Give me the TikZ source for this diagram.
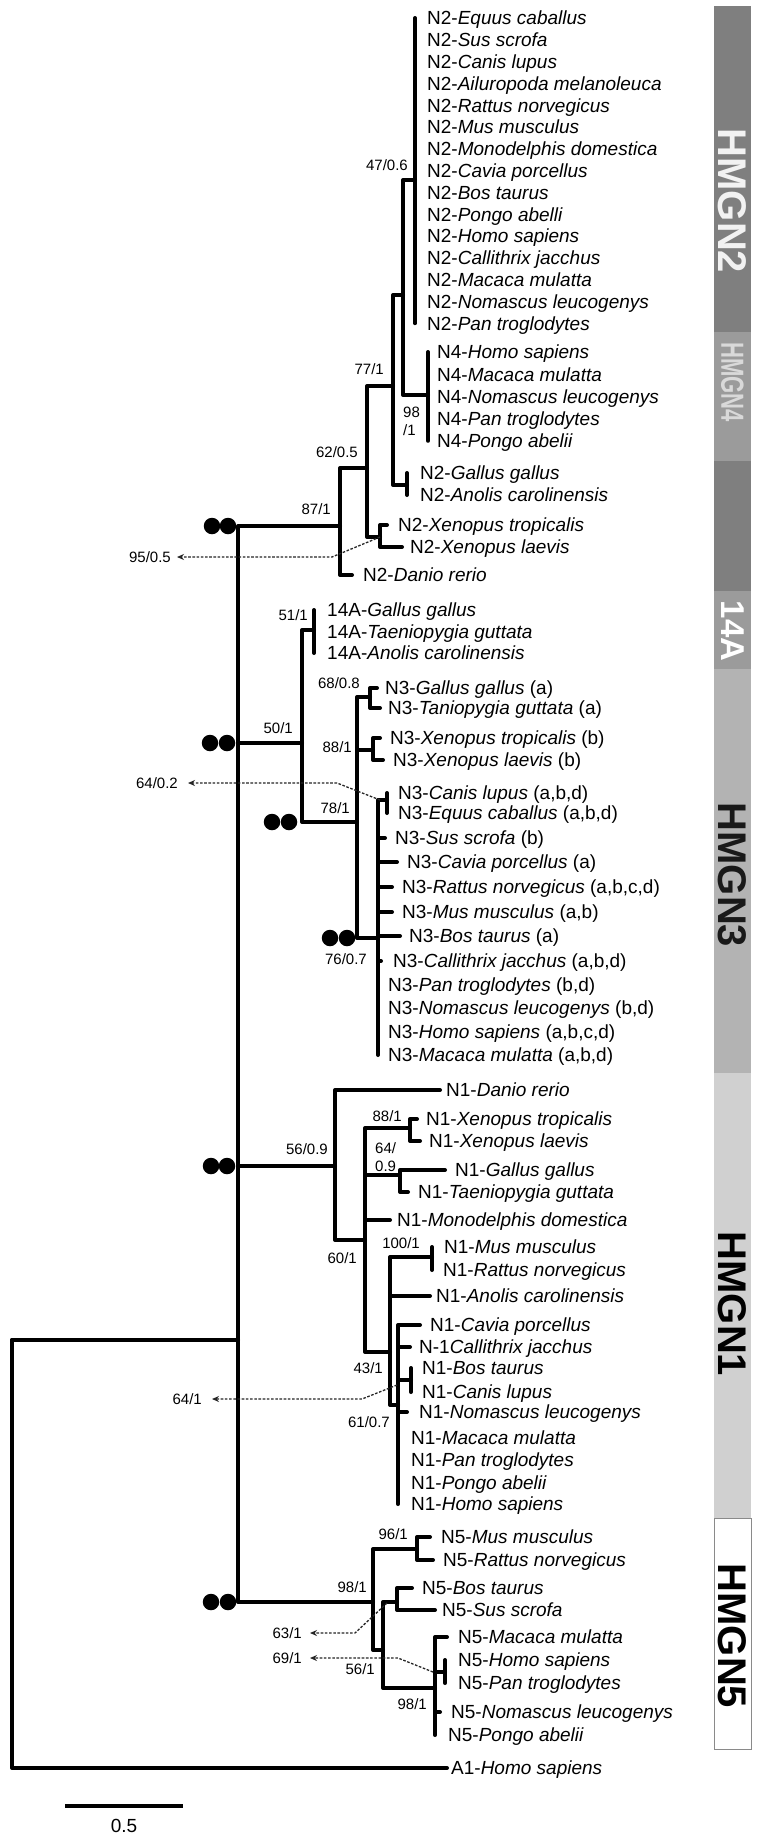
\documentclass[tikz,border=0pt]{standalone}
\usepackage{fontspec}
\usepackage{graphicx}
\setmainfont{Liberation Sans}
\usetikzlibrary{arrows.meta}
\definecolor{barDark}{HTML}{7F7F7F}
\definecolor{barMid}{HTML}{9B9B9B}
\definecolor{barThree}{HTML}{B3B3B3}
\definecolor{barOne}{HTML}{D0D0D0}
\definecolor{barEdge}{HTML}{8A8A8A}
\begin{document}
\begin{tikzpicture}[x=1pt,y=-1pt,
 br/.style={line width=4pt,line cap=round,line join=round},
 tx/.style={anchor=west,inner sep=0pt,font=\fontsize{19}{19}\selectfont,text height=13.6pt,text depth=0pt},
 bsr/.style={anchor=east,inner sep=0pt,font=\fontsize{15}{15}\selectfont,text height=10.7pt,text depth=0pt},
 bsl/.style={bsr,anchor=west},
 dsh/.style={line width=1.3pt,dash pattern=on 2.6pt off 1.6pt,black!85,-{Stealth[length=7pt,width=6pt]}},
 dot/.style={circle,fill=black,draw=none,inner sep=0pt,minimum size=16.5pt},
 bartext/.style={rotate=-90,inner sep=0pt,font=\fontsize{40}{40}\selectfont\bfseries}
]
\useasboundingbox[fill=white] (0,0) rectangle (760,1840);

% ---------- side bars ----------
\fill[barDark] (714,6) rectangle (751,332);
\fill[barMid] (714,332) rectangle (751,461);
\fill[barDark] (714,461) rectangle (751,591);
\fill[barMid] (714,591) rectangle (751,669);
\fill[barThree] (714,669) rectangle (751,1073);
\fill[barOne] (714,1073) rectangle (751,1518);
\draw[barEdge,line width=0.8pt,fill=white] (714,1518) rectangle (751,1749);
\node[bartext,text=white!95!black] (tHMGN2) at (732.5,201) {HMGN2};
\node[bartext,text=white!85!black,font=\fontsize{32}{32}\selectfont\bfseries] (tHMGN4) at (732.5,382) {\scalebox{0.69}[1]{HMGN4}};
\node[bartext,text=white,font=\fontsize{33}{33}\selectfont\bfseries] (t14A) at (732.5,631) {14A};
\node[bartext,text=black!90] (tHMGN3) at (732.5,875) {HMGN3};
\node[bartext,text=black] (tHMGN1) at (732.5,1304) {HMGN1};
\node[bartext,text=black] (tHMGN5) at (732.5,1636) {HMGN5};

% ---------- taxon labels ----------
\foreach \t [count=\i] in {Equus caballus,Sus scrofa,Canis lupus,Ailuropoda melanoleuca,Rattus norvegicus,Mus musculus,Monodelphis domestica,Cavia porcellus,Bos taurus,Pongo abelli,Homo sapiens,Callithrix jacchus,Macaca mulatta,Nomascus leucogenys,Pan troglodytes}
  \node[tx] (n2m\i) at (427,{18+21.8*(\i-1)}) {N2-\textit{\t}};
\foreach \t [count=\i] in {Homo sapiens,Macaca mulatta,Nomascus leucogenys,Pan troglodytes,Pongo abelii}
  \node[tx] (n4\i) at (437,{352+22.2*(\i-1)}) {N4-\textit{\t}};
\node[tx] (n2gal) at (420,473) {N2-\textit{Gallus gallus}};
\node[tx] (n2ano) at (420,495) {N2-\textit{Anolis carolinensis}};
\node[tx] (n2xt) at (398,525) {N2-\textit{Xenopus tropicalis}};
\node[tx] (n2xl) at (410,547) {N2-\textit{Xenopus laevis}};
\node[tx] (n2dan) at (363,575) {N2-\textit{Danio rerio}};
\node[tx] (a14a) at (327,610) {14A-\textit{Gallus gallus}};
\node[tx] (a14b) at (327,632) {14A-\textit{Taeniopygia guttata}};
\node[tx] (a14c) at (327,653) {14A-\textit{Anolis carolinensis}};
\node[tx] (n3gal) at (385,688) {N3-\textit{Gallus gallus} (a)};
\node[tx] (n3tan) at (388,708) {N3-\textit{Taniopygia guttata} (a)};
\node[tx] (n3xt) at (390,738) {N3-\textit{Xenopus tropicalis} (b)};
\node[tx] (n3xl) at (393,760) {N3-\textit{Xenopus laevis} (b)};
\node[tx] (n3can) at (398,793) {N3-\textit{Canis lupus} (a,b,d)};
\node[tx] (n3equ) at (398,813) {N3-\textit{Equus caballus} (a,b,d)};
\node[tx] (n3sus) at (395,838) {N3-\textit{Sus scrofa} (b)};
\node[tx] (n3cav) at (407,862) {N3-\textit{Cavia porcellus} (a)};
\node[tx] (n3rat) at (402,887) {N3-\textit{Rattus norvegicus} (a,b,c,d)};
\node[tx] (n3mus) at (402,912) {N3-\textit{Mus musculus} (a,b)};
\node[tx] (n3bos) at (409,936) {N3-\textit{Bos taurus} (a)};
\node[tx] (n3cal) at (393,961) {N3-\textit{Callithrix jacchus} (a,b,d)};
\node[tx] (n3pan) at (388,985) {N3-\textit{Pan troglodytes} (b,d)};
\node[tx] (n3nom) at (388,1008) {N3-\textit{Nomascus leucogenys} (b,d)};
\node[tx] (n3hom) at (388,1032) {N3-\textit{Homo sapiens} (a,b,c,d)};
\node[tx] (n3mac) at (388,1055) {N3-\textit{Macaca mulatta} (a,b,d)};
\node[tx] (n1dan) at (446,1090) {N1-\textit{Danio rerio}};
\node[tx] (n1xt) at (426,1119) {N1-\textit{Xenopus tropicalis}};
\node[tx] (n1xl) at (429,1141) {N1-\textit{Xenopus laevis}};
\node[tx] (n1gal) at (455,1170) {N1-\textit{Gallus gallus}};
\node[tx] (n1tae) at (418,1192) {N1-\textit{Taeniopygia guttata}};
\node[tx] (n1mon) at (397,1220) {N1-\textit{Monodelphis domestica}};
\node[tx] (n1mus) at (444,1247) {N1-\textit{Mus musculus}};
\node[tx] (n1rat) at (443,1270) {N1-\textit{Rattus norvegicus}};
\node[tx] (n1ano) at (436,1296) {N1-\textit{Anolis carolinensis}};
\node[tx] (n1cav) at (430,1325) {N1-\textit{Cavia porcellus}};
\node[tx] (n1cal) at (419,1347) {N-1\textit{Callithrix jacchus}};
\node[tx] (n1bos) at (422,1368) {N1-\textit{Bos taurus}};
\node[tx] (n1can) at (422,1392) {N1-\textit{Canis lupus}};
\node[tx] (n1nom) at (419,1412) {N1-\textit{Nomascus leucogenys}};
\node[tx] (n1mac) at (411,1438) {N1-\textit{Macaca mulatta}};
\node[tx] (n1pan) at (411,1460) {N1-\textit{Pan troglodytes}};
\node[tx] (n1pon) at (411,1483) {N1-\textit{Pongo abelii}};
\node[tx] (n1hom) at (411,1504) {N1-\textit{Homo sapiens}};
\node[tx] (n5mus) at (441,1537) {N5-\textit{Mus musculus}};
\node[tx] (n5rat) at (443,1560) {N5-\textit{Rattus norvegicus}};
\node[tx] (n5bos) at (422,1588) {N5-\textit{Bos taurus}};
\node[tx] (n5sus) at (442,1610) {N5-\textit{Sus scrofa}};
\node[tx] (n5mac) at (458,1637) {N5-\textit{Macaca mulatta}};
\node[tx] (n5hom) at (458,1660) {N5-\textit{Homo sapiens}};
\node[tx] (n5pan) at (458,1683) {N5-\textit{Pan troglodytes}};
\node[tx] (n5nom) at (451,1712) {N5-\textit{Nomascus leucogenys}};
\node[tx] (n5pon) at (448,1735) {N5-\textit{Pongo abelii}};
\node[tx] (a1) at (451,1768) {A1-\textit{Homo sapiens}};

% ---------- internal nodes ----------
\coordinate (R) at (12,1340);
\coordinate (B) at (238,1340);
\coordinate (C87) at (340,526);
\coordinate (C62) at (367,468);
\coordinate (C77) at (393,386);
\coordinate (C47) at (403,295);
\coordinate (N2m) at (415,180);
\coordinate (N4) at (428,395);
\coordinate (G2) at (407,485);
\coordinate (X2) at (380,537);
\coordinate (C50) at (302,743);
\coordinate (A14) at (314,630);
\coordinate (C78) at (357,822);
\coordinate (G3) at (370,697);
\coordinate (X3) at (373,750);
\coordinate (C76) at (378,938);
\coordinate (CE3) at (387,800);
\coordinate (C56) at (335,1166);
\coordinate (C60) at (365,1240);
\coordinate (X1) at (410,1128);
\coordinate (G1) at (400,1175);
\coordinate (C43) at (390,1352);
\coordinate (MR1) at (432,1257);
\coordinate (C61) at (398,1405);
\coordinate (BC1) at (411,1380);
\coordinate (C98) at (373,1602);
\coordinate (MR5) at (417,1549);
\coordinate (C56b) at (383,1650);
\coordinate (BS5) at (397,1602);
\coordinate (P5) at (435,1688);
\coordinate (HP5) at (445,1672);

% ---------- branches ----------
\draw[br] (R) |- (B);
\draw[br] (R) |- ([xshift=-4pt]a1.west);
\draw[br] (B) |- (C87);
\draw[br] (B) |- (C50);
\draw[br] (B) |- (C56);
\draw[br] (B) |- (C98);
% HMGN2 / HMGN4
\draw[br] (C87) |- (C62);
\draw[br] (C87) |- ([xshift=-11pt]n2dan.west);
\draw[br] (C62) |- (C77);
\draw[br] (C62) |- (X2);
\draw[br] (C77) |- (C47);
\draw[br] (C77) |- (G2);
\draw[br] (C47) |- (N2m);
\draw[br] (C47) |- (N4);
\draw[br] (N2m |- n2m1.west) -- (N2m |- n2m15.west);
\draw[br] (N4 |- n41.west) -- (N4 |- n45.west);
\draw[br] (G2 |- n2gal.west) -- (G2 |- n2ano.west);
\draw[br] (X2) |- ([xshift=-11pt]n2xt.west);
\draw[br] (X2) |- ([xshift=-8pt]n2xl.west);
% 14A / HMGN3
\draw[br] (C50) |- (A14);
\draw[br] (C50) |- (C78);
\draw[br] (A14 |- a14a.west) -- (A14 |- a14c.west);
\draw[br] (C78) |- (G3);
\draw[br] (C78) |- (X3);
\draw[br] (C78) |- (C76);
\draw[br] (G3) |- ([xshift=-8pt]n3gal.west);
\draw[br] (G3) |- ([xshift=-8pt]n3tan.west);
\draw[br] (X3) |- ([xshift=-10pt]n3xt.west);
\draw[br] (X3) |- ([xshift=-10pt]n3xl.west);
\draw[br] (C76) |- (CE3);
\draw[br] (CE3 |- n3can.west) -- (CE3 |- n3equ.west);
\draw[br] (C76) |- ([xshift=-10pt]n3sus.west);
\draw[br] (C76) |- ([xshift=-10pt]n3cav.west);
\draw[br] (C76) |- ([xshift=-10pt]n3rat.west);
\draw[br] (C76) |- ([xshift=-10pt]n3mus.west);
\draw[br] (C76) |- ([xshift=-9pt]n3bos.west);
\draw[br] (C76) |- ([xshift=-12pt]n3cal.west);
\draw[br] (C76) -- (C76 |- n3mac.west);
% HMGN1
\draw[br] (C56) |- ([xshift=-6pt]n1dan.west);
\draw[br] (C56) |- (C60);
\draw[br] (C60) |- (X1);
\draw[br] (C60) |- (G1);
\draw[br] (C60) |- ([xshift=-7pt]n1mon.west);
\draw[br] (C60) |- (C43);
\draw[br] (X1) |- ([xshift=-9pt]n1xt.west);
\draw[br] (X1) |- ([xshift=-9pt]n1xl.west);
\draw[br] (G1) |- ([xshift=-10pt]n1gal.west);
\draw[br] (G1) |- ([xshift=-10pt]n1tae.west);
\draw[br] (C43) |- (MR1);
\draw[br] (C43) |- ([xshift=-6pt]n1ano.west);
\draw[br] (C43) |- (C61);
\draw[br] (MR1 |- n1mus.west) -- (MR1 |- n1rat.west);
\draw[br] (C61) |- ([xshift=-10pt]n1cav.west);
\draw[br] (C61) |- ([xshift=-9pt]n1cal.west);
\draw[br] (C61) |- (BC1);
\draw[br] (C61) |- ([xshift=-12pt]n1nom.west);
\draw[br] (C61) -- (C61 |- n1hom.west);
\draw[br] (BC1 |- n1bos.west) -- (BC1 |- n1can.west);
% HMGN5
\draw[br] (C98) |- (MR5);
\draw[br] (C98) |- (C56b);
\draw[br] (MR5) |- ([xshift=-11pt]n5mus.west);
\draw[br] (MR5) |- ([xshift=-10pt]n5rat.west);
\draw[br] (C56b) |- (BS5);
\draw[br] (C56b) |- (P5);
\draw[br] (BS5) |- ([xshift=-10pt]n5bos.west);
\draw[br] (BS5) |- ([xshift=-7pt]n5sus.west);
\draw[br] (P5) |- ([xshift=-11pt]n5mac.west);
\draw[br] (P5) |- (HP5);
\draw[br] (P5) |- ([xshift=-11pt]n5nom.west);
\draw[br] (P5) -- (P5 |- n5pon.west);
\draw[br] (HP5 |- n5hom.west) -- (HP5 |- n5pan.west);

% ---------- duplication dots ----------
\node[dot] (d1a) at (212,526) {}; \node[dot] (d1b) at (228,526) {};
\node[dot] (d2a) at (210,743) {}; \node[dot] (d2b) at (227,743) {};
\node[dot] (d3a) at (272,822) {}; \node[dot] (d3b) at (289,822) {};
\node[dot] (d4a) at (330,938) {}; \node[dot] (d4b) at (347,938) {};
\node[dot] (d5a) at (211,1166) {}; \node[dot] (d5b) at (227,1166) {};
\node[dot] (d6a) at (211,1602) {}; \node[dot] (d6b) at (228,1602) {};

% ---------- support values ----------
\node[bsr] (s1) at (408,165) {47/0.6};
\node[bsr] (s2) at (384,369) {77/1};
\node[bsl] (s3a) at (403,412) {98};
\node[bsl] (s3b) at (403,430) {/1};
\node[bsr] (s4) at (358,452) {62/0.5};
\node[bsr] (s5) at (331,509) {87/1};
\node[bsr] (l95) at (171,557) {95/0.5};
\node[bsr] (s6) at (308,615) {51/1};
\node[bsr] (s7) at (360,683) {68/0.8};
\node[bsr] (s8) at (293,728) {50/1};
\node[bsr] (s9) at (352,747) {88/1};
\node[bsr] (l642) at (178,783) {64/0.2};
\node[bsr] (s10) at (350,808) {78/1};
\node[bsr] (s11) at (367,959) {76/0.7};
\node[bsr] (s12) at (402,1116) {88/1};
\node[bsr] (s13) at (328,1149) {56/0.9};
\node[bsl] (s14a) at (375,1148) {64/};
\node[bsl] (s14b) at (375,1166) {0.9};
\node[bsr] (s15) at (420,1243) {100/1};
\node[bsr] (s16) at (357,1258) {60/1};
\node[bsr] (s17) at (383,1368) {43/1};
\node[bsr] (l641) at (202,1399) {64/1};
\node[bsr] (s18) at (390,1422) {61/0.7};
\node[bsr] (s19) at (408,1534) {96/1};
\node[bsr] (s20) at (367,1587) {98/1};
\node[bsr] (l63) at (302,1633) {63/1};
\node[bsr] (l69) at (302,1658) {69/1};
\node[bsr] (s21) at (375,1669) {56/1};
\node[bsr] (s22) at (427,1704) {98/1};

% ---------- dashed pointers ----------
\coordinate (k95) at (332,557);
\draw[dsh] (X2) -- (k95) -- ([xshift=6pt]l95.east);
\coordinate (k642s) at (380,800);
\coordinate (k642) at (337,783);
\draw[dsh] (k642s) -- (k642) -- ([xshift=10pt]l642.east);
\coordinate (k641s) at (397,1385);
\coordinate (k641) at (362,1399);
\draw[dsh] (k641s) -- (k641) -- ([xshift=10pt]l641.east);
\coordinate (k63s) at (387,1603);
\coordinate (k63) at (355,1633);
\draw[dsh] (k63s) -- (k63) -- ([xshift=8pt]l63.east);
\coordinate (k69s) at (433,1672);
\coordinate (k69) at (398,1658);
\draw[dsh] (k69s) -- (k69) -- ([xshift=8pt]l69.east);

% ---------- scale bar ----------
\coordinate (sb1) at (65,1806);
\coordinate (sb2) at (183,1806);
\draw[line width=4pt] (sb1) -- (sb2);
\node[inner sep=0pt,font=\fontsize{19}{19}\selectfont,text height=13.6pt,text depth=0pt] (sbl) at (124,1826) {0.5};
\end{tikzpicture}
\end{document}
